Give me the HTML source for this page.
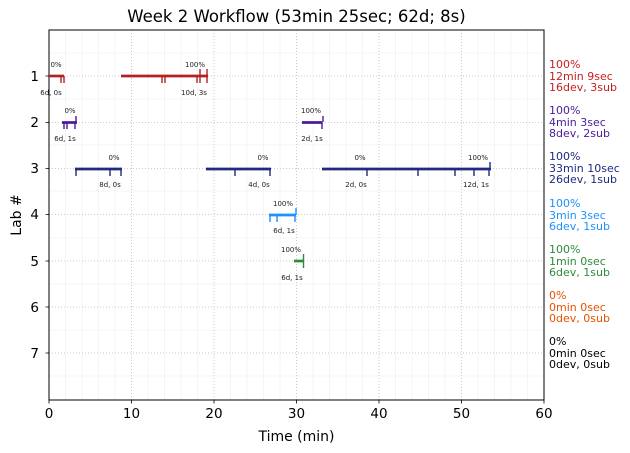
<!DOCTYPE html>
<html><head><meta charset="utf-8"><style>body{margin:0;background:#fff}svg{display:block;font-family:"DejaVu Sans","Liberation Sans",sans-serif}</style></head><body>
<svg width="630" height="453" viewBox="0 0 630 453">
<g stroke="#f0f0f0" stroke-width="0.7">
<line x1="65.5" y1="30" x2="65.5" y2="400"/><line x1="82" y1="30" x2="82" y2="400"/><line x1="98.5" y1="30" x2="98.5" y2="400"/><line x1="115" y1="30" x2="115" y2="400"/>
<line x1="148" y1="30" x2="148" y2="400"/><line x1="164.5" y1="30" x2="164.5" y2="400"/><line x1="181" y1="30" x2="181" y2="400"/><line x1="197.5" y1="30" x2="197.5" y2="400"/>
<line x1="230.5" y1="30" x2="230.5" y2="400"/><line x1="247" y1="30" x2="247" y2="400"/><line x1="263.5" y1="30" x2="263.5" y2="400"/><line x1="280" y1="30" x2="280" y2="400"/>
<line x1="313" y1="30" x2="313" y2="400"/><line x1="329.5" y1="30" x2="329.5" y2="400"/><line x1="346" y1="30" x2="346" y2="400"/><line x1="362.5" y1="30" x2="362.5" y2="400"/>
<line x1="395.5" y1="30" x2="395.5" y2="400"/><line x1="412" y1="30" x2="412" y2="400"/><line x1="428.5" y1="30" x2="428.5" y2="400"/><line x1="445" y1="30" x2="445" y2="400"/>
<line x1="478" y1="30" x2="478" y2="400"/><line x1="494.5" y1="30" x2="494.5" y2="400"/><line x1="511" y1="30" x2="511" y2="400"/><line x1="527.5" y1="30" x2="527.5" y2="400"/>
<line x1="49" y1="53" x2="544" y2="53"/><line x1="49" y1="99" x2="544" y2="99"/><line x1="49" y1="145" x2="544" y2="145"/><line x1="49" y1="191" x2="544" y2="191"/><line x1="49" y1="238" x2="544" y2="238"/><line x1="49" y1="284" x2="544" y2="284"/><line x1="49" y1="330" x2="544" y2="330"/><line x1="49" y1="376" x2="544" y2="376"/>
</g>
<g stroke="#bbb" stroke-width="0.8" stroke-dasharray="1,2">
<line x1="131.5" y1="30" x2="131.5" y2="400"/><line x1="214" y1="30" x2="214" y2="400"/><line x1="296.5" y1="30" x2="296.5" y2="400"/><line x1="379" y1="30" x2="379" y2="400"/><line x1="461.5" y1="30" x2="461.5" y2="400"/>
<line x1="49" y1="76" x2="544" y2="76"/><line x1="49" y1="122.5" x2="544" y2="122.5"/><line x1="49" y1="168.5" x2="544" y2="168.5"/><line x1="49" y1="214.5" x2="544" y2="214.5"/><line x1="49" y1="261" x2="544" y2="261"/><line x1="49" y1="307" x2="544" y2="307"/><line x1="49" y1="353" x2="544" y2="353"/>
</g>
<rect x="49" y="30" width="495" height="370" fill="none" stroke="#000" stroke-width="1"/>
<g font-size="7" fill="#222" text-anchor="middle">
<g stroke="#b22222" stroke-width="2.7"><line x1="49" y1="76" x2="64" y2="76"/><line x1="121" y1="76" x2="208" y2="76"/></g>
<g stroke="#b22222" stroke-width="1.4"><path d="M61 76v7M64 76v7M162 76v7M165 76v7M197 76v7M200 76v7M200 76v-7M207 76v-7M207 76v7"/></g>
<text x="56" y="67">0%</text><text x="51" y="95">6d, 0s</text><text x="195" y="67">100%</text><text x="194" y="95">10d, 3s</text>
<g stroke="#4b1a9a" stroke-width="2.7"><line x1="62" y1="122.5" x2="77" y2="122.5"/><line x1="302" y1="122.5" x2="322" y2="122.5"/></g>
<g stroke="#4b1a9a" stroke-width="1.4"><path d="M64 122v7M67 122v7M75 122v7M76 122v-6M322 122v7M323 122v-6"/></g>
<text x="70" y="113">0%</text><text x="65" y="141">6d, 1s</text><text x="311" y="113">100%</text><text x="312" y="141">2d, 1s</text>
<g stroke="#1f2a80" stroke-width="2.7"><line x1="75" y1="169" x2="122" y2="169"/><line x1="206" y1="169" x2="271" y2="169"/><line x1="322" y1="169" x2="491" y2="169"/></g>
<g stroke="#1f2a80" stroke-width="1.4"><path d="M76 169v7M110 169v7M121 169v7M235 169v7M270 169v7M367 169v7M418 169v7M455 169v7M474 169v7M489 169v7M490 169v-7"/></g>
<text x="114" y="160">0%</text><text x="110" y="187">8d, 0s</text><text x="263" y="160">0%</text><text x="259" y="187">4d, 0s</text><text x="360" y="160">0%</text><text x="356" y="187">2d, 0s</text><text x="478" y="160">100%</text><text x="476" y="187">12d, 1s</text>
<g stroke="#1e90ff" stroke-width="2.7"><line x1="269" y1="215" x2="296" y2="215"/></g>
<g stroke="#1e90ff" stroke-width="1.4"><path d="M270 215v7M277 215v7M295 215v7M296 215v-7"/></g>
<text x="283" y="206">100%</text><text x="284" y="233">6d, 1s</text>
<g stroke="#2e8b3c" stroke-width="2.7"><line x1="294" y1="261" x2="304" y2="261"/></g>
<g stroke="#2e8b3c" stroke-width="1.4"><path d="M303.5 254v14"/></g>
<text x="291" y="252">100%</text><text x="292" y="280">6d, 1s</text>
</g>
<g stroke="#000" stroke-width="0.8"><path d="M49 400v3.5M131.5 400v3.5M214 400v3.5M296.5 400v3.5M379 400v3.5M461.5 400v3.5M544 400v3.5M45.5 76h3.5M45.5 122.5h3.5M45.5 168.5h3.5M45.5 214.5h3.5M45.5 261h3.5M45.5 307h3.5M45.5 353h3.5"/></g>
<g font-size="13.5" fill="#000" text-anchor="middle">
<text x="49" y="418">0</text><text x="131.5" y="418">10</text><text x="214" y="418">20</text><text x="296.5" y="418">30</text><text x="379" y="418">40</text><text x="461.5" y="418">50</text><text x="544" y="418">60</text>
<text x="296.5" y="441" font-size="14">Time (min)</text>
<text x="296.5" y="22" font-size="16.5">Week 2 Workflow (53min 25sec; 62d; 8s)</text>
</g>
<g font-size="13.5" fill="#000" text-anchor="end">
<text x="39" y="81">1</text><text x="39" y="127">2</text><text x="39" y="173">3</text><text x="39" y="219">4</text><text x="39" y="266">5</text><text x="39" y="312">6</text><text x="39" y="358">7</text>
</g>
<text transform="translate(21,215) rotate(-90)" font-size="14" text-anchor="middle">Lab #</text>
<g font-size="11">
<text fill="#c81e1e"><tspan x="549" y="68">100%</tspan><tspan x="549" y="80">12min 9sec</tspan><tspan x="549" y="91">16dev, 3sub</tspan></text>
<text fill="#4b1a9a"><tspan x="549" y="114">100%</tspan><tspan x="549" y="126">4min 3sec</tspan><tspan x="549" y="137">8dev, 2sub</tspan></text>
<text fill="#1f2a80"><tspan x="549" y="160">100%</tspan><tspan x="549" y="172">33min 10sec</tspan><tspan x="549" y="183">26dev, 1sub</tspan></text>
<text fill="#1e90ff"><tspan x="549" y="207">100%</tspan><tspan x="549" y="219">3min 3sec</tspan><tspan x="549" y="230">6dev, 1sub</tspan></text>
<text fill="#2e8b3c"><tspan x="549" y="253">100%</tspan><tspan x="549" y="265">1min 0sec</tspan><tspan x="549" y="276">6dev, 1sub</tspan></text>
<text fill="#e65100"><tspan x="549" y="299">0%</tspan><tspan x="549" y="311">0min 0sec</tspan><tspan x="549" y="322">0dev, 0sub</tspan></text>
<text fill="#000"><tspan x="549" y="345">0%</tspan><tspan x="549" y="357">0min 0sec</tspan><tspan x="549" y="368">0dev, 0sub</tspan></text>
</g>
</svg>
</body></html>
